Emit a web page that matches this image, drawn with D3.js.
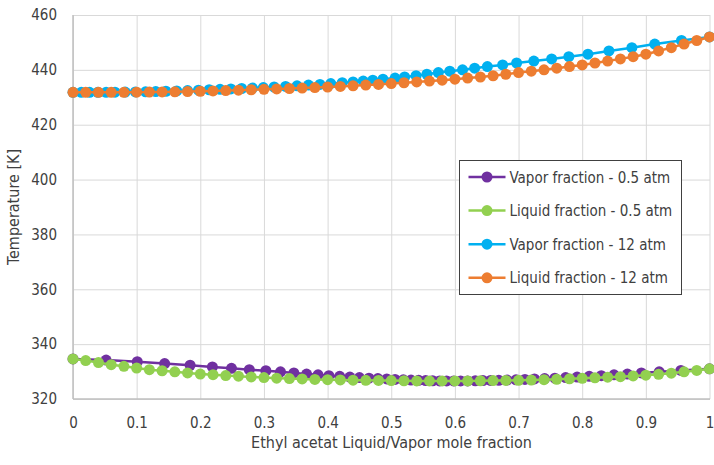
<!DOCTYPE html>
<html>
<head>
<meta charset="utf-8">
<script src="https://cdn.jsdelivr.net/npm/d3@7"></script>
<style>
  body { margin: 0; background: #fff; }
  text { font-family: "Liberation Sans Narrow", "Arial Narrow", "DejaVu Sans Condensed", sans-serif; fill: #404040; }
  .grid line { stroke: #d9d9d9; stroke-width: 1; }
  .grid path { display: none; }
  .axis path, .axis line { display: none; }
</style>
</head>
<body>
<script>
// x ticks and y ticks
const xTicks = [0, 0.1, 0.2, 0.3, 0.4, 0.5, 0.6, 0.7, 0.8, 0.9, 1];
const yTicks = [320, 340, 360, 380, 400, 420, 440, 460];

// 12 atm: liquid points (x) and vapor points (y) share the temperature list
const liquidX12 = [0, 0.02, 0.04, 0.06, 0.08, 0.10, 0.12, 0.14, 0.16, 0.18, 0.20, 0.22, 0.24, 0.26, 0.28, 0.30,
  0.32, 0.34, 0.36, 0.38, 0.40, 0.42, 0.44, 0.46, 0.48, 0.50, 0.52, 0.54, 0.56, 0.58, 0.60, 0.62, 0.64, 0.66,
  0.68, 0.70, 0.72, 0.74, 0.76, 0.78, 0.80, 0.82, 0.84, 0.86, 0.88, 0.90, 0.92, 0.94, 0.96, 0.98, 1.00];
const vaporX12 = [0, 0.013, 0.026, 0.039, 0.052, 0.066, 0.082, 0.098, 0.114, 0.13, 0.146, 0.163, 0.18, 0.197,
  0.214, 0.231, 0.248, 0.265, 0.282, 0.299, 0.316, 0.334, 0.352, 0.37, 0.388, 0.405, 0.423, 0.44, 0.456, 0.471,
  0.487, 0.506, 0.521, 0.539, 0.556, 0.574, 0.592, 0.612, 0.631, 0.651, 0.675, 0.697, 0.724, 0.752, 0.779,
  0.809, 0.842, 0.878, 0.914, 0.956, 1.0];
const temp12 = [431.8, 431.8, 431.8, 431.8, 431.8, 431.85, 431.9, 431.95, 432.0, 432.1, 432.2, 432.3, 432.45,
  432.6, 432.75, 432.9, 433.05, 433.2, 433.35, 433.55, 433.75, 433.95, 434.2, 434.45, 434.7, 435.0, 435.3,
  435.6, 435.9, 436.25, 436.6, 437.0, 437.4, 437.85, 438.4, 439.0, 439.5, 440.0, 440.6, 441.2, 441.8, 442.5,
  443.2, 444.0, 444.8, 445.7, 446.9, 448.1, 449.4, 450.7, 452.0];

// 0.5 atm: liquid
const liquidX05 = liquidX12;
const liquidT05 = [334.6, 334.0, 333.3, 332.5, 331.9, 331.3, 330.7, 330.3, 329.9, 329.5, 329.1, 328.85, 328.55,
  328.3, 328.05, 327.8, 327.6, 327.45, 327.3, 327.15, 327.05, 326.95, 326.85, 326.8, 326.75, 326.7, 326.65,
  326.6, 326.6, 326.6, 326.6, 326.6, 326.65, 326.7, 326.75, 326.8, 326.9, 327.05, 327.2, 327.35, 327.55,
  327.75, 327.95, 328.15, 328.4, 328.7, 329.0, 329.4, 329.9, 330.4, 331.0];

// 0.5 atm: vapor
const vaporX05 = [0, 0.052, 0.101, 0.144, 0.184, 0.219, 0.249, 0.277, 0.303, 0.326, 0.347, 0.367, 0.385, 0.402,
  0.419, 0.435, 0.45, 0.465, 0.479, 0.493, 0.506, 0.519, 0.531, 0.543, 0.554, 0.565, 0.576, 0.587, 0.598,
  0.609, 0.62, 0.632, 0.644, 0.656, 0.669, 0.682, 0.696, 0.71, 0.725, 0.741, 0.757, 0.774, 0.792, 0.811,
  0.83, 0.85, 0.871, 0.893, 0.921, 0.955, 1.0];
const vaporT05 = [334.6, 334.2, 333.6, 332.9, 332.3, 331.7, 331.2, 330.7, 330.3, 329.9, 329.5, 329.1, 328.8,
  328.5, 328.25, 328.0, 327.8, 327.6, 327.45, 327.3, 327.15, 327.0, 326.9, 326.8, 326.7, 326.65, 326.6, 326.6,
  326.6, 326.6, 326.6, 326.65, 326.7, 326.75, 326.8, 326.9, 327.0, 327.15, 327.3, 327.45, 327.6, 327.8, 328.0,
  328.25, 328.5, 328.8, 329.1, 329.5, 329.9, 330.4, 331.0];

const seriesNames = ["Vapor fraction - 0.5 atm", "Liquid fraction - 0.5 atm",
  "Vapor fraction - 12 atm", "Liquid fraction - 12 atm"];
const seriesColors = ["#7030a0", "#92d050", "#00b0f0", "#ed7d31"];

// build series
const series = [
  d3.zip(vaporX05, vaporT05),
  d3.zip(liquidX05, liquidT05),
  d3.zip(vaporX12, temp12),
  d3.zip(liquidX12, temp12),
].map((pts, i) => ({ name: seriesNames[i], color: seriesColors[i], pts: pts }));

// 範圍
const W = 714, H = 465,
  margin = { top: 15, right: 4, bottom: 66, left: 73 },
  width = W - margin.left - margin.right,
  height = H - margin.top - margin.bottom;

const svg = d3.select("body").append("svg")
  .attr("width", W)
  .attr("height", H);

const g = svg.append("g")
  .attr("transform", `translate(${margin.left},${margin.top})`);

const x = d3.scaleLinear().domain([0, 1]).range([0, width - 0.5]);
const y = d3.scaleLinear().domain([320, 460]).range([height, 0]);

// grid
g.append("g").attr("class", "grid")
  .attr("transform", `translate(0,${height})`)
  .call(d3.axisBottom(x).tickValues(xTicks).tickSize(-height).tickFormat(""));
g.append("g").attr("class", "grid")
  .call(d3.axisLeft(y).tickValues(yTicks).tickSize(-width).tickFormat(""));

// axis lines
g.append("line").attr("x1", 0).attr("x2", 0).attr("y1", 0).attr("y2", height)
  .attr("stroke", "#bfbfbf").attr("stroke-width", 1.5);
g.append("line").attr("x1", 0).attr("x2", width).attr("y1", height).attr("y2", height)
  .attr("stroke", "#bfbfbf").attr("stroke-width", 1.5);

// tick labels
const xAxis = g.append("g").attr("class", "axis")
  .attr("transform", `translate(0,${height})`)
  .call(d3.axisBottom(x).tickValues(xTicks).tickSize(0).tickPadding(18).tickFormat(d3.format("")));
xAxis.selectAll("text").style("font-size", "15px").attr("fill", "#404040");

const yAxis = g.append("g").attr("class", "axis")
  .call(d3.axisLeft(y).tickValues(yTicks).tickSize(0).tickPadding(16));
yAxis.selectAll("text").style("font-size", "15px").attr("fill", "#404040");

// axis titles
svg.append("text")
  .attr("x", margin.left + width / 2)
  .attr("y", 448)
  .attr("text-anchor", "middle")
  .style("font-size", "16px")
  .text("Ethyl acetat Liquid/Vapor mole fraction");

svg.append("text")
  .attr("transform", `translate(19,${margin.top + height / 2}) rotate(-90)`)
  .attr("text-anchor", "middle")
  .style("font-size", "16px")
  .text("Temperature [K]");

// lines + markers
const line = d3.line().x(d => x(d[0])).y(d => y(d[1]));

series.forEach(s => {
  const sg = g.append("g");
  sg.append("path")
    .attr("d", line(s.pts))
    .attr("fill", "none")
    .attr("stroke", s.color)
    .attr("stroke-width", 2.5);
  sg.selectAll("circle").data(s.pts).join("circle")
    .attr("cx", d => x(d[0]))
    .attr("cy", d => y(d[1]))
    .attr("r", 5.5)
    .attr("fill", s.color);
});

// legend
const legend = svg.append("g").attr("transform", "translate(459.5,160.5)");
legend.append("rect")
  .attr("width", 222).attr("height", 134)
  .attr("fill", "#fff")
  .attr("stroke", "#404040")
  .attr("stroke-width", 1);

series.forEach((s, i) => {
  const row = legend.append("g").attr("transform", `translate(0,${16.5 + i * 33.6})`);
  row.append("line").attr("x1", 9).attr("x2", 46).attr("y1", 0).attr("y2", 0)
    .attr("stroke", s.color).attr("stroke-width", 2.5);
  row.append("circle").attr("cx", 27.5).attr("cy", 0).attr("r", 5.5).attr("fill", s.color);
  row.append("text").attr("x", 50).attr("y", 5.5)
    .style("font-size", "15px")
    .text(s.name);
});
</script>
</body>
</html>
